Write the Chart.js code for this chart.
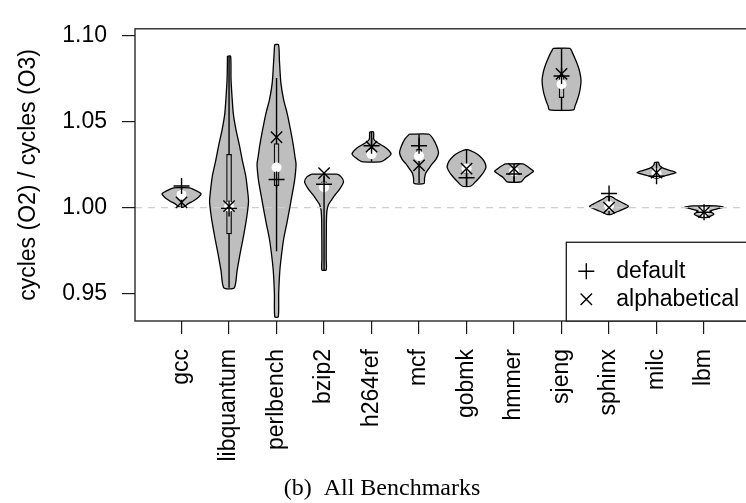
<!DOCTYPE html>
<html>
<head>
<meta charset="utf-8">
<script src="https://cdn.jsdelivr.net/npm/chart.js@4/dist/chart.umd.min.js"></script>
<style>
  html, body { margin: 0; padding: 0; background: #fff; overflow: hidden; }
  #chart { display: block; }
</style>
</head>
<body>
<canvas id="chart" width="760" height="503"></canvas>
<script>
// Benchmarks, left to right
const benchmarks = ['gcc', 'libquantum', 'perlbench', 'bzip2', 'h264ref', 'mcf',
                    'gobmk', 'hmmer', 'sjeng', 'sphinx', 'milc', 'lbm'];

// Violin outlines: ratio levels from top to bottom and the density at each level (% of peak)
const densityLevels = [
  [1.0115, 1.0100, 1.0080, 1.0060, 1.0040, 1.0020, 1.0003],
  [1.0881, 1.0750, 1.0650, 1.0545, 1.0450, 1.0363, 1.0270, 1.0182, 1.0100, 1.0036, 0.9970, 0.9909, 0.9820, 0.9728, 0.9630, 0.9533],
  [1.0948, 1.0850, 1.0727, 1.0630, 1.0545, 1.0450, 1.0363, 1.0300, 1.0254, 1.0200, 1.0145, 1.0070, 1.0000, 0.9910, 0.9820, 0.9730, 0.9635, 0.9500, 0.9364],
  [1.0194, 1.0180, 1.0150, 1.0110, 1.0073, 1.0040, 1.0018, 0.9982, 0.9909, 0.9700, 0.9637],
  [1.0440, 1.0400, 1.0385, 1.0370, 1.0355, 1.0336, 1.0312, 1.0290, 1.0267],
  [1.0427, 1.0400, 1.0360, 1.0318, 1.0280, 1.0254, 1.0225, 1.0200, 1.0170, 1.0140],
  [1.0336, 1.0320, 1.0300, 1.0270, 1.0236, 1.0210, 1.0182, 1.0150, 1.0124],
  [1.0254, 1.0240, 1.0225, 1.0212, 1.0195, 1.0175, 1.0149],
  [1.0926, 1.0900, 1.0854, 1.0815, 1.0781, 1.0740, 1.0700, 1.0660, 1.0620, 1.0590, 1.0568],
  [1.0064, 1.0050, 1.0035, 1.0020, 1.0008, 0.9995, 0.9980, 0.9968, 0.9960],
  [1.0263, 1.0245, 1.0228, 1.0215, 1.0203, 1.0192, 1.0182, 1.0173],
  [1.0010, 1.0002, 0.9992, 0.9980, 0.9970, 0.9962, 0.9952, 0.9942]
];
const densityValues = [
  [41, 72, 100, 87, 62, 31, 10],
  [8, 10, 15, 22, 36, 53, 69, 86, 95, 100, 94, 86, 72, 56, 41, 27],
  [10, 15, 22, 36, 55, 72, 86, 94, 100, 97, 91, 79, 68, 53, 37, 26, 17, 11, 9],
  [65, 87, 100, 82, 56, 36, 23, 15, 12, 11, 11],
  [10, 11, 21, 41, 64, 85, 100, 82, 51],
  [50, 72, 90, 100, 87, 67, 49, 34, 28, 26],
  [10, 41, 67, 90, 100, 90, 72, 46, 21],
  [46, 67, 85, 100, 82, 56, 36],
  [43, 56, 74, 87, 95, 100, 97, 90, 79, 69, 62],
  [13, 31, 56, 82, 100, 82, 51, 26, 10],
  [10, 15, 36, 72, 100, 67, 31, 10],
  [62, 100, 67, 31, 41, 51, 36, 10]
];

// Summary statistics per benchmark
const whiskerLow  = [1.0003, 0.9533, 0.9746, 0.9637, 1.0267, 1.0142, 1.0124, 1.0149, 1.0568, 0.9960, 1.0173, 0.9945];
const whiskerHigh = [1.0115, 1.0881, 1.0754, 1.0194, 1.0440, 1.0427, 1.0336, 1.0254, 1.0926, 1.0064, 1.0263, 1.0009];
const quartile1   = [1.0060, 0.9847, 1.0127, 1.0097, 1.0300, 1.0285, 1.0200, 1.0195, 1.0640, 0.9995, 1.0190, 0.9965];
const quartile3   = [1.0100, 1.0310, 1.0372, 1.0150, 1.0345, 1.0340, 1.0250, 1.0225, 1.0765, 1.0025, 1.0210, 0.9985];
const medians     = [1.0075, 1.0005, 1.0233, 1.0118, 1.0310, 1.0300, 1.0227, 1.0210, 1.0717, 1.0010, 1.0200, 0.9975];

// Single-run results for the two link orders
const defaultOrder      = [1.0125, 0.9995, 1.0163, 1.0136, 1.0360, 1.0360, 1.0173, 1.0195, 1.0765, 1.0082, 1.0182, 0.9973];
const alphabeticalOrder = [1.0030, 1.0008, 1.0409, 1.0200, 1.0355, 1.0245, 1.0227, 1.0225, 1.0778, 1.0000, 1.0203, 0.9973];

const yTickValues = [0.95, 1.00, 1.05, 1.10];
const referenceRatio = 1.00;

// ---- drawing setup ----
const FONT = '"Liberation Sans", Arial, Helvetica, sans-serif';
const X_MIN = 0.02, X_MAX = 12.98;
const Y_MIN = 0.934, Y_MAX = 1.104;
const HALF_WIDTH = 0.41;          // widest violin half-width, in category units
const VIOLIN_FILL = '#bebebe';

function violinOutline(i) {
  const cx = i + 1;
  const lv = densityLevels[i], dv = densityValues[i];
  const pts = [];
  for (let k = 0; k < lv.length; k++) pts.push({ x: cx - HALF_WIDTH * dv[k] / 100, y: lv[k] });
  for (let k = lv.length - 1; k >= 0; k--) pts.push({ x: cx + HALF_WIDTH * dv[k] / 100, y: lv[k] });
  pts.push({ x: pts[0].x, y: pts[0].y });
  return pts;
}

const datasets = [];

benchmarks.forEach((name, i) => {
  datasets.push({
    type: 'line',
    label: name,
    data: violinOutline(i),
    borderColor: '#000',
    borderWidth: 1.3,
    backgroundColor: VIOLIN_FILL,
    fill: 'shape',
    tension: 0.22,
    pointRadius: 0,
    order: 10
  });
});

datasets.push({
  type: 'line',
  label: 'reference',
  data: [{ x: X_MIN, y: referenceRatio }, { x: X_MAX, y: referenceRatio }],
  borderColor: '#cfcfcf',
  borderWidth: 1.3,
  borderDash: [7, 6],
  pointRadius: 0,
  fill: false,
  order: 9
});

const whiskerPts = [];
benchmarks.forEach((_, i) => {
  whiskerPts.push({ x: i + 1, y: whiskerLow[i] }, { x: i + 1, y: whiskerHigh[i] }, { x: i + 1, y: null });
});
datasets.push({
  type: 'line',
  label: 'whiskers',
  data: whiskerPts,
  borderColor: '#000',
  borderWidth: 1.4,
  pointRadius: 0,
  spanGaps: false,
  fill: false,
  order: 8
});

datasets.push({
  type: 'bar',
  label: 'iqr',
  data: benchmarks.map((_, i) => ({ x: i + 1, y: [quartile1[i], quartile3[i]] })),
  backgroundColor: VIOLIN_FILL,
  borderColor: '#000',
  borderWidth: 1.2,
  borderSkipped: false,
  barThickness: 5,
  order: 7
});

datasets.push({
  type: 'scatter',
  label: 'median',
  data: benchmarks.map((_, i) => ({ x: i + 1, y: medians[i] })),
  pointStyle: 'circle',
  pointRadius: 5,
  pointBackgroundColor: '#fff',
  pointBorderWidth: 0,
  order: 6
});

datasets.push({
  type: 'scatter',
  label: 'default',
  data: benchmarks.map((_, i) => ({ x: i + 1, y: defaultOrder[i] })),
  pointStyle: 'cross',
  pointRadius: 8,
  pointBorderColor: '#000',
  pointBorderWidth: 1.4,
  order: 2
});

datasets.push({
  type: 'scatter',
  label: 'alphabetical',
  data: benchmarks.map((_, i) => ({ x: i + 1, y: alphabeticalOrder[i] })),
  pointStyle: 'crossRot',
  pointRadius: 8,
  pointBorderColor: '#000',
  pointBorderWidth: 1.4,
  order: 1
});

// Plot frame, legend box and caption
const decorations = {
  id: 'decorations',
  afterDatasetsDraw(chart) {
    const { ctx, chartArea: a } = chart;
    ctx.save();
    ctx.strokeStyle = '#1a1a1a';
    ctx.lineWidth = 1.3;
    ctx.strokeRect(a.left, a.top, a.right - a.left, a.bottom - a.top);
    ctx.restore();
  },
  afterDraw(chart) {
    const { ctx, chartArea: a, scales } = chart;
    const left = scales.x.getPixelForValue(9.1);
    const top = scales.y.getPixelForValue(0.9798);
    ctx.save();
    ctx.fillStyle = '#fff';
    ctx.fillRect(left, top, a.right - left, a.bottom - top);
    ctx.strokeStyle = '#1a1a1a';
    ctx.lineWidth = 1.3;
    ctx.strokeRect(left, top, a.right - left, a.bottom - top);

    const sx = left + 20;
    const row1 = top + 29, row2 = top + 57;
    ctx.strokeStyle = '#000';
    ctx.lineWidth = 1.4;
    ctx.beginPath();
    ctx.moveTo(sx - 8, row1); ctx.lineTo(sx + 8, row1);
    ctx.moveTo(sx, row1 - 8); ctx.lineTo(sx, row1 + 8);
    ctx.moveTo(sx - 5.7, row2 - 5.7); ctx.lineTo(sx + 5.7, row2 + 5.7);
    ctx.moveTo(sx - 5.7, row2 + 5.7); ctx.lineTo(sx + 5.7, row2 - 5.7);
    ctx.stroke();

    ctx.fillStyle = '#000';
    ctx.font = '23px ' + FONT;
    ctx.textAlign = 'left';
    ctx.textBaseline = 'middle';
    ctx.fillText('default', left + 50, row1);
    ctx.fillText('alphabetical', left + 50, row2);

    ctx.font = '24px "Liberation Serif", "Times New Roman", serif';
    ctx.textAlign = 'center';
    ctx.fillText('(b)  All Benchmarks', 382, 489);
    ctx.restore();
  }
};

new Chart(document.getElementById('chart'), {
  type: 'scatter',
  data: { datasets },
  options: {
    responsive: false,
    animation: false,
    devicePixelRatio: 1,
    layout: { padding: { top: 9, right: 8, bottom: 0, left: 0 } },
    plugins: { legend: { display: false }, tooltip: { enabled: false } },
    scales: {
      x: {
        type: 'linear',
        position: 'bottom',
        offset: false,
        min: X_MIN,
        max: X_MAX,
        afterBuildTicks: (scale) => { scale.ticks = benchmarks.map((_, i) => ({ value: i + 1 })); },
        afterFit: (scale) => { scale.height = 182; },
        grid: { offset: false, drawOnChartArea: false, drawTicks: true, tickLength: 13, color: '#1a1a1a', lineWidth: 1.2 },
        border: { display: false },
        ticks: {
          autoSkip: false,
          minRotation: 90,
          maxRotation: 90,
          padding: 15,
          color: '#000',
          font: { family: FONT, size: 23 },
          callback: (v) => benchmarks[Math.round(v) - 1]
        }
      },
      y: {
        type: 'linear',
        min: Y_MIN,
        max: Y_MAX,
        afterBuildTicks: (scale) => { scale.ticks = yTickValues.map(v => ({ value: v })); },
        afterFit: (scale) => { scale.width = 135; },
        grid: { drawOnChartArea: false, drawTicks: true, tickLength: 13, color: '#1a1a1a', lineWidth: 1.2 },
        border: { display: false },
        ticks: {
          padding: 15,
          color: '#000',
          font: { family: FONT, size: 23 },
          callback: (v) => Number(v).toFixed(2)
        },
        title: {
          display: true,
          text: 'cycles (O2) / cycles (O3)',
          color: '#000',
          font: { family: FONT, size: 23 },
          padding: { top: 15, bottom: 0 }
        }
      }
    }
  },
  plugins: [decorations]
});
</script>
</body>
</html>
